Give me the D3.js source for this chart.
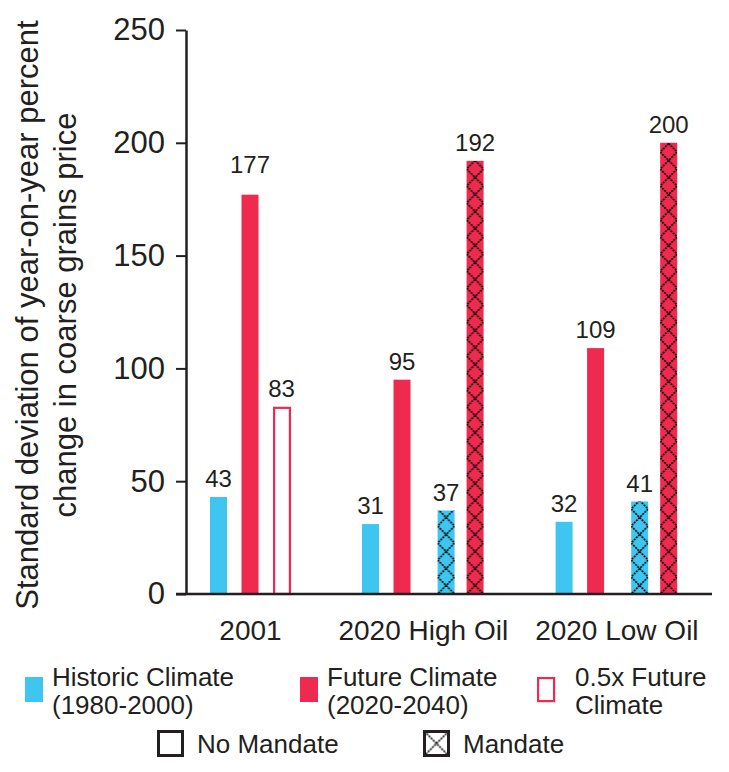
<!DOCTYPE html>
<html><head><meta charset="utf-8">
<script src="https://cdn.jsdelivr.net/npm/d3@7/dist/d3.min.js"></script>
<style>
body{margin:0;background:#fff;}
text{font-family:"Liberation Sans", Arial, Helvetica, sans-serif; fill:#231f20;}
</style>
</head><body>
<svg id="chart" width="729" height="772"></svg>
<script>
// ---------- data ----------
const categories = ["2001", "2020 High Oil", "2020 Low Oil"];
const historic = [43, 31, 32];
const future = [177, 95, 109];
const halfFuture = [83, null, null];
const historicMandate = [null, 37, 41];
const futureMandate = [null, 192, 200];
const yTicks = [0, 50, 100, 150, 200, 250];
const yTitleLines = ["Standard deviation of year-on-year percent", "change in coarse grains price"];
const legendSeriesLabels = [["Historic Climate", "(1980-2000)"], ["Future Climate", "(2020-2040)"], ["0.5x Future", "Climate"]];
const legendMandateLabels = ["No Mandate", "Mandate"];

// ---------- style / layout ----------
const BLUE = "#3ec6f1", RED = "#ee2a4e", INK = "#231f20";
const svg = d3.select("#chart");
const barW = 17, slotPitch = 31.5, groupGap = 72, firstGroup = 210;

const series = [
  {values: historic, color: BLUE, kind: "solid", slot: 0},
  {values: future, color: RED, kind: "solid", slot: 1},
  {values: halfFuture, color: RED, kind: "hollow", slot: 2},
  {values: historicMandate, color: BLUE, kind: "hatch", slot: 2.4},
  {values: futureMandate, color: RED, kind: "hatch", slot: 3.32}
];

const y = d3.scaleLinear().domain([0, 250]).range([594, 30]);
const slotX = d3.scaleLinear().domain([0, 1]).range([0, slotPitch]);

// group start positions derived from which bars each group holds
const starts = [];
categories.forEach((c, i) => {
  if (i === 0) { starts.push(firstGroup); return; }
  const prevMax = d3.max(series.filter(s => s.values[i - 1] != null), s => s.slot);
  starts.push(starts[i - 1] + slotX(prevMax) + barW + groupGap);
});
const xGroup = d3.scaleOrdinal().domain(categories).range(starts);
const groupWidth = categories.map((c, i) => slotX(d3.max(series.filter(s => s.values[i] != null), s => s.slot)) + barW);
const xCenter = d3.scaleOrdinal().domain(categories).range(categories.map((c, i) => starts[i] + groupWidth[i] / 2));

// ---------- bars ----------
const bars = [];
series.forEach((s, si) => s.values.forEach((v, i) => {
  if (v == null) return;
  bars.push({cat: categories[i], v, s, x: xGroup(categories[i]) + slotX(s.slot), id: "h" + si + "_" + i});
}));

const defs = svg.append("defs");
function hatch(id, x0, y0, w, h, bg) {
  const p = defs.append("pattern").attr("id", id).attr("patternUnits", "userSpaceOnUse")
    .attr("x", x0).attr("y", y0).attr("width", w).attr("height", h);
  p.append("rect").attr("width", w).attr("height", h).attr("fill", bg);
  [[0, 0, w, h], [w, 0, 0, h]].forEach(([a, b, c, d]) =>
    p.append("line").attr("x1", a).attr("y1", b).attr("x2", c).attr("y2", d)
      .attr("stroke", "#000").attr("stroke-width", 1.6).attr("stroke-dasharray", "2,1"));
}

bars.filter(b => b.s.kind === "hatch").forEach(b => hatch(b.id, b.x, y(0), barW, 17, b.s.color));

const gBars = svg.append("g");
bars.forEach(b => {
  const top = y(b.v), h = y(0) - y(b.v);
  if (b.s.kind === "hollow") {
    gBars.append("rect").attr("x", b.x + 1.1).attr("y", top + 1.1).attr("width", barW + 1 - 2.2).attr("height", h - 1.1)
      .attr("fill", "#fff").attr("stroke", b.s.color).attr("stroke-width", 2.2);
  } else {
    gBars.append("rect").attr("x", b.x).attr("y", top).attr("width", barW).attr("height", h)
      .attr("fill", b.s.kind === "hatch" ? `url(#${b.id})` : b.s.color);
  }
  const lift = b.v > 170 && b.v < 180 ? 22 : 10;
  gBars.append("text").attr("x", b.x + barW / 2).attr("y", top - lift).attr("text-anchor", "middle")
    .style("font-size", "24px").text(b.v);
});

// ---------- axes ----------
const yAxis = svg.append("g").attr("transform", "translate(186,0)")
  .call(d3.axisLeft(y).tickValues(yTicks).tickSize(10).tickPadding(11).tickSizeOuter(0));
yAxis.select(".domain").attr("stroke", INK).attr("stroke-width", 2.5);
yAxis.selectAll(".tick line").attr("stroke", INK).attr("stroke-width", 2);
yAxis.selectAll(".tick text").style("font-size", "31px").attr("fill", INK);

const xAxis = svg.append("g").attr("transform", `translate(0,${y(0)})`)
  .call(d3.axisBottom(xCenter).tickSize(0).tickPadding(26));
xAxis.select(".domain").remove();
xAxis.selectAll(".tick text").style("font-size", "28px").attr("fill", INK);
svg.append("line").attr("x1", 176).attr("x2", 712).attr("y1", y(0)).attr("y2", y(0))
  .attr("stroke", INK).attr("stroke-width", 2.5);

// y title
const yt = svg.append("text").attr("transform", "translate(0,315) rotate(-90)").attr("text-anchor", "middle")
  .style("font-size", "31px");
yTitleLines.forEach((t, i) => yt.append("tspan").attr("x", 0).attr("y", i === 0 ? 38 : 76).text(t));

// ---------- legend ----------
const lg = svg.append("g");
const row1X = [25, 300, 537];
legendSeriesLabels.forEach((lab, i) => {
  const x0 = row1X[i];
  if (i < 2) lg.append("rect").attr("x", x0).attr("y", 677).attr("width", 18).attr("height", 25).attr("fill", i === 0 ? BLUE : RED);
  else lg.append("rect").attr("x", x0 + 1.1).attr("y", 678.1).attr("width", 16).attr("height", 23).attr("fill", "#fff").attr("stroke", RED).attr("stroke-width", 2.2);
  const t = lg.append("text").style("font-size", "26px");
  lab.forEach((l, j) => t.append("tspan").attr("x", x0 + (i === 2 ? 38 : 27)).attr("y", 686 + j * 28).text(l));
});
const row2X = [157, 423];
hatch("legM", 424.5, 731.5, 24, 24, "#fff");
legendMandateLabels.forEach((lab, i) => {
  const x0 = row2X[i];
  lg.append("rect").attr("x", x0 + 1.5).attr("y", 731.5).attr("width", 24).attr("height", 24)
    .attr("fill", i === 0 ? "#fff" : "url(#legM)").attr("stroke", INK).attr("stroke-width", 3);
  lg.append("text").attr("x", x0 + 40).attr("y", 753).style("font-size", "26px").text(lab);
});
</script>
</body></html>
